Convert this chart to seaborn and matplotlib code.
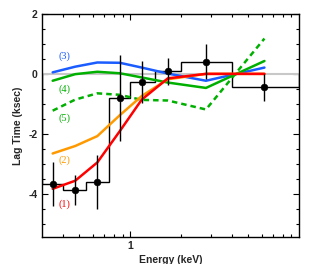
import matplotlib
matplotlib.use("Agg")
import matplotlib.pyplot as plt
import seaborn as sns
import numpy as np
import pandas as pd
from matplotlib.ticker import FixedLocator, MultipleLocator, NullFormatter

# ---- data ----
bin_edges = [0.3, 0.4, 0.55, 0.75, 1.0, 1.4, 2.0, 4.0, 10.0]
energy = [0.347, 0.472, 0.638, 0.868, 1.17, 1.67, 2.81, 6.24]
lag = [-3.68, -3.87, -3.62, -0.81, -0.28, 0.08, 0.41, -0.45]
lag_err = [0.75, 0.5, 0.9, 1.43, 0.7, 0.45, 0.58, 0.46]

model1 = [-3.84, -3.57, -2.96, -1.91, -0.86, -0.15, 0.0, 0.0]
model2 = [-2.66, -2.41, -2.08, -1.38, -0.74, -0.18, 0.0, 0.0]
model3 = [0.05, 0.24, 0.38, 0.37, 0.21, 0.01, -0.23, 0.21]
model4 = [-0.23, -0.01, 0.07, 0.02, -0.12, -0.29, -0.47, 0.43]
model5 = [-1.23, -0.86, -0.65, -0.70, -0.87, -0.89, -1.19, 1.18]

labels = ["(1)", "(2)", "(3)", "(4)", "(5)"]

sns.set_theme(style="white")
plt.rcParams['font.family'] = ['Liberation Sans', 'DejaVu Sans']

fig = plt.figure(figsize=(3.12, 2.64), dpi=100)
ax = fig.add_axes([42/312, 1-237/264, (299-42)/312, (237-14)/264])

ax.axhline(0, color="#c8c8c8", lw=1.5, zorder=1)

# step histogram
ax.stairs(lag, bin_edges, color="black", lw=1.0, zorder=2)

c_red = "#ff0000"
c_orange = "#ff9900"
c_blue = "#1a5cff"
c_green = "#00b000"

df = pd.DataFrame({"E": energy, "m1": model1, "m2": model2, "m3": model3,
                   "m4": model4, "m5": model5})
sns.lineplot(data=df, x="E", y="m3", color=c_blue, lw=1.8, ax=ax, zorder=3)
sns.lineplot(data=df, x="E", y="m4", color=c_green, lw=1.8, ax=ax, zorder=3)
sns.lineplot(data=df, x="E", y="m5", color=c_green, lw=1.8, ax=ax, zorder=3)
ax.lines[-1].set_dashes((2.2, 1.6))
sns.lineplot(data=df, x="E", y="m2", color=c_orange, lw=1.8, ax=ax, zorder=3)
sns.lineplot(data=df, x="E", y="m1", color=c_red, lw=1.8, ax=ax, zorder=4)

ax.errorbar(energy, lag, yerr=lag_err, fmt="none", ecolor="black", elinewidth=1.0, zorder=5)
sns.scatterplot(x=energy, y=lag, color="black", s=24, edgecolor="black", ax=ax, zorder=6)

# labels
lab_font = dict(family=["Liberation Serif", "DejaVu Serif"], fontsize=7.5,
                ha="center", va="center")
lx = 0.41
ax.text(lx, -4.36, labels[0], color=c_red, **lab_font)
ax.text(lx, -2.87, labels[1], color=c_orange, **lab_font)
ax.text(lx, 0.58, labels[2], color=c_blue, **lab_font)
ax.text(lx, -0.52, labels[3], color=c_green, **lab_font)
ax.text(lx, -1.48, labels[4], color=c_green, **lab_font)

ax.set_xscale("log")
ax.set_xlim(0.3, 10)
ax.set_ylim(-5.45, 2.0)
ax.xaxis.set_major_locator(FixedLocator([1]))
ax.set_xticklabels(["1"])
ax.xaxis.set_minor_locator(FixedLocator([0.4, 0.5, 0.6, 0.7, 0.8, 0.9, 2, 3, 4, 5, 6, 7, 8, 9]))
ax.xaxis.set_minor_formatter(NullFormatter())
ax.yaxis.set_major_locator(FixedLocator([-4, -2, 0, 2]))
ax.set_yticklabels(["-4", "-2", "0", "2"])
ax.yaxis.set_minor_locator(MultipleLocator(0.5))

ax.tick_params(which="both", direction="in", top=True, right=True, bottom=True, left=True,
               color="black", width=0.8)
ax.tick_params(which="major", length=4, labelsize=7.5, pad=3)
ax.tick_params(which="minor", length=2.5)
for t in ax.get_xticklabels() + ax.get_yticklabels():
    t.set_fontweight("bold")

for s in ax.spines.values():
    s.set_color("black")
    s.set_linewidth(1.0)

ax.set_xlabel("Energy (keV)", fontsize=7.5, fontweight="bold", labelpad=3)
ax.set_ylabel("Lag Time (ksec)", fontsize=7.5, fontweight="bold", labelpad=4)
ax.grid(False)

fig.savefig("out.png", dpi=100)
